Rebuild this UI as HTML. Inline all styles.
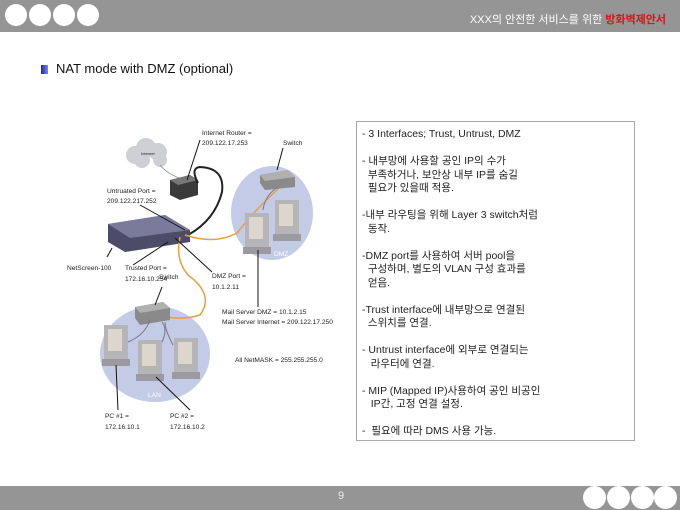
<!DOCTYPE html>
<html><head><meta charset="utf-8"><style>
body{margin:0;width:680px;height:510px;background:#fff;position:relative;overflow:hidden;font-family:"Liberation Sans","Noto Sans CJK KR",sans-serif}
.hdr{position:absolute;left:0;top:0;width:680px;height:32px;background:#959595}
.ftr{position:absolute;left:0;top:486px;width:680px;height:24px;background:#959595}
.c{position:absolute;width:22px;height:22px;border-radius:50%;background:#fff}
.box{position:absolute;left:356px;top:121px;width:279px;height:320px;border:1px solid #aaa;font-size:10.5px;line-height:13.5px;color:#222}
.box p{margin:0 0 13.5px 5px;white-space:pre}
</style></head><body>
<div class="hdr"></div>
<div class="c" style="left:5px;top:4px"></div><div class="c" style="left:29px;top:4px"></div><div class="c" style="left:53px;top:4px"></div><div class="c" style="left:77px;top:4px"></div>
<div style="position:absolute;right:14px;top:11px;font-size:11px;color:#fff">XXX의 안전한 서비스를 위한 <b style="color:#d01818">방화벽제안서</b></div>
<div style="position:absolute;left:41px;top:65px;width:7px;height:9px;background:linear-gradient(90deg,#1a2aa0,#7a8ae8)"></div>
<div style="position:absolute;left:56px;top:61px;font-size:13px;color:#111">NAT mode with DMZ (optional)</div>
<svg style="position:absolute;left:50px;top:120px" width="300" height="320" font-size="6.6" fill="#222">
<defs><g id="pc"><rect x="0" y="0" width="24" height="38" fill="#b5b5b8"/><rect x="4" y="4" width="14" height="22" fill="#ddd6cc"/><rect x="-2" y="34" width="28" height="7" fill="#9a9aa0"/></g></defs>
<ellipse cx="222" cy="93" rx="41" ry="47" fill="#c4cbe6"/>
<ellipse cx="105" cy="234" rx="55" ry="48" fill="#c4cbe6"/>
<g fill="#cfcfd6"><circle cx="85" cy="35" r="9"/><circle cx="96" cy="28" r="10"/><circle cx="108" cy="32" r="9"/><circle cx="110" cy="40" r="7"/><circle cx="92" cy="40" r="8"/></g>
<text x="91" y="35" font-size="4">Internet</text>
<path d="M110 45 Q118 55 135 60" stroke="#999" fill="none"/>
<polygon points="120,60 140,55 148,60 148,75 130,80 120,75" fill="#3a3a3a"/><polygon points="120,60 140,55 148,60 128,65" fill="#777"/>
<path d="M148 63 Q140 48 150 47 Q175 48 172 72 Q165 100 138 115" stroke="#222" stroke-width="2" fill="none"/>
<polygon points="58,104 115,95 140,110 140,122 75,132 58,122" fill="#4c4c68"/><polygon points="58,104 115,95 140,110 80,118" fill="#7a7a9a"/>
<path d="M135 115 Q165 125 187 113 Q205 90 230 67" stroke="#e8a040" stroke-width="1.5" fill="none"/>
<path d="M130 117 Q125 140 138 155 Q165 175 150 195 Q135 200 117 197" stroke="#e8a040" stroke-width="1.5" fill="none"/>
<polygon points="210,55 238,50 245,57 245,67 215,70 210,63" fill="#8a8a8a"/><polygon points="210,55 238,50 245,57 215,61" fill="#b0b0b0"/>
<use href="#pc" x="195" y="93"/><use href="#pc" x="225" y="80"/>
<polygon points="85,187 113,182 120,188 120,200 90,205 85,198" fill="#8a8a8a"/><polygon points="85,187 113,182 120,188 90,193" fill="#b0b0b0"/>
<use href="#pc" x="54" y="205"/><use href="#pc" x="88" y="220"/><use href="#pc" x="124" y="218"/>
<path d="M78 222 Q95 215 100 200 M112 222 Q118 210 112 202 M123 225 Q115 210 115 202" stroke="#778" fill="none"/>
<path d="M213 90 Q215 75 228 67" stroke="#778" fill="none"/>
<text x="224" y="136" fill="#fff">DMZ</text><text x="98" y="277" fill="#fff">LAN</text>
<text x="152" y="15">Internet Router =</text><text x="152" y="25">209.122.17.253</text>
<text x="233" y="25">Switch</text>
<text x="57" y="73">Untruated Port =</text><text x="57" y="83">209.122.217.252</text>
<text x="17" y="150">NetScreen-100</text>
<text x="75" y="150">Trusted Port =</text><text x="75" y="161">172.16.10.254</text>
<text x="109" y="159">Switch</text>
<text x="162" y="158">DMZ Port =</text><text x="162" y="169">10.1.2.11</text>
<text x="172" y="194">Mail Server DMZ = 10.1.2.15</text><text x="172" y="204">Mail Server Internet = 209.122.17.250</text>
<text x="185" y="242">All NetMASK = 255.255.255.0</text>
<text x="55" y="298">PC #1 =</text><text x="55" y="309">172.16.10.1</text>
<text x="120" y="298">PC #2 =</text><text x="120" y="309">172.16.10.2</text>
<g stroke="#111" stroke-width="1"><line x1="90" y1="85" x2="135" y2="110"/><line x1="57" y1="137" x2="62" y2="128"/><line x1="83" y1="145" x2="118" y2="122"/><line x1="162" y1="152" x2="125" y2="118"/><line x1="208" y1="187" x2="208" y2="130"/><line x1="68" y1="290" x2="66" y2="245"/><line x1="140" y1="290" x2="106" y2="257"/><line x1="150" y1="20" x2="137" y2="60"/><line x1="233" y1="28" x2="227" y2="50"/><line x1="112" y1="167" x2="105" y2="185"/></g>
</svg>
<div class="box" style="padding-top:6px;box-sizing:border-box">
<p>- 3 Interfaces; Trust, Untrust, DMZ</p>
<p>- 내부망에 사용할 공인 IP의 수가
  부족하거나, 보안상 내부 IP를 숨길
  필요가 있을때 적용.</p>
<p>-내부 라우팅을 위해 Layer 3 switch처럼
  동작.</p>
<p>-DMZ port를 사용하여 서버 pool을
  구성하며, 별도의 VLAN 구성 효과를
  얻음.</p>
<p>-Trust interface에 내부망으로 연결된
  스위치를 연결.</p>
<p>- Untrust interface에 외부로 연결되는
   라우터에 연결.</p>
<p>- MIP (Mapped IP)사용하여 공인 비공인
   IP간, 고정 연결 설정.</p>
<p>-  필요에 따라 DMS 사용 가능.</p>
</div>
<div class="ftr"></div>
<div style="position:absolute;left:338px;top:490px;font-size:11px;color:#eee">9</div>
<div class="c" style="left:583px;top:486px;width:23px;height:23px"></div><div class="c" style="left:607px;top:486px;width:23px;height:23px"></div><div class="c" style="left:631px;top:486px;width:23px;height:23px"></div><div class="c" style="left:654px;top:486px;width:23px;height:23px"></div>
</body></html>
